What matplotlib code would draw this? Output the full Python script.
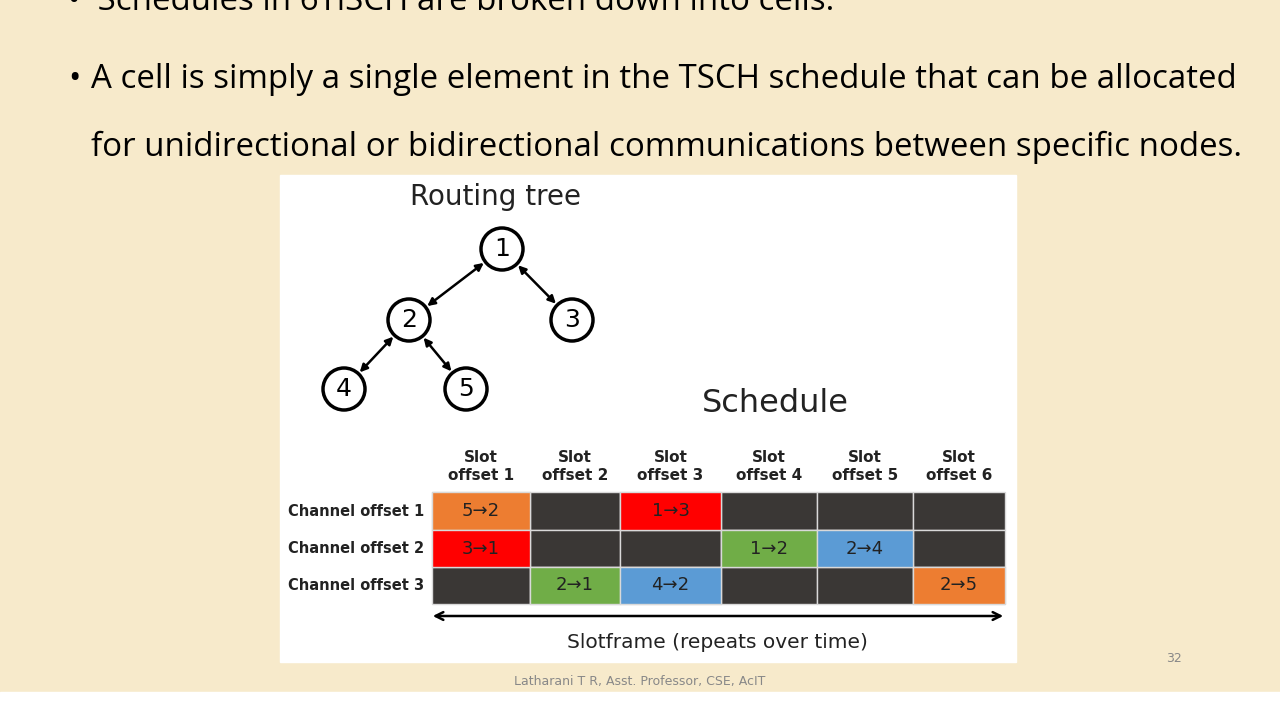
import matplotlib
matplotlib.use("Agg")
import matplotlib.pyplot as plt
from matplotlib.patches import Rectangle, Circle, FancyArrowPatch

# data
slot_labels = ["Slot\noffset 1", "Slot\noffset 2", "Slot\noffset 3",
               "Slot\noffset 4", "Slot\noffset 5", "Slot\noffset 6"]
channel_labels = ["Channel offset 1", "Channel offset 2", "Channel offset 3"]
# (channel row, slot col, text, colour)
cells = [(0, 0, "5→2", "#ED7D31"), (0, 2, "1→3", "#FF0000"),
         (1, 0, "3→1", "#FF0000"), (1, 3, "1→2", "#70AD47"), (1, 4, "2→4", "#5B9BD5"),
         (2, 1, "2→1", "#70AD47"), (2, 2, "4→2", "#5B9BD5"), (2, 5, "2→5", "#ED7D31")]
nodes = {"1": (502, 249), "2": (409, 320), "3": (572, 320), "4": (344, 389), "5": (466, 389)}
edges = [("1", "2"), ("1", "3"), ("2", "4"), ("2", "5")]

col_edges = [432, 530, 620, 721, 817, 913, 1005]
row_edges = [492, 530, 567, 604]

fig = plt.figure(figsize=(12.8, 7.2), dpi=100)
fig.patch.set_facecolor("#F7EACB")
ax = fig.add_axes([0, 0, 1, 1])
ax.set_xlim(0, 1280)
ax.set_ylim(720, 0)
ax.axis("off")

ax.add_patch(Rectangle((0, 692), 1280, 28, color="white"))
ax.add_patch(Rectangle((280, 175), 736, 487, color="white"))

tf = dict(family="Open Sans", fontsize=23.8, color="black", va="center")
ax.text(68, 2, "•  Schedules in 6TiSCH are broken down into cells.", **tf)
ax.text(68, 79, "•", **tf)
ax.text(91, 79, "A cell is simply a single element in the TSCH schedule that can be allocated", **tf)
ax.text(91, 147, "for unidirectional or bidirectional communications between specific nodes.", **tf)

ax.text(495, 197, "Routing tree", fontsize=20, ha="center", va="center", color="#222")
ax.text(775, 403, "Schedule", fontsize=23, ha="center", va="center", color="#222")

r = 21
for a, b in edges:
    (x1, y1), (x2, y2) = nodes[a], nodes[b]
    ax.add_patch(FancyArrowPatch((x1, y1), (x2, y2), arrowstyle="<|-|>",
                 mutation_scale=11, lw=1.8, color="black", shrinkA=16.5, shrinkB=16.5))
for k, (x, y) in nodes.items():
    ax.add_patch(Circle((x, y), r, fc="white", ec="black", lw=2.5))
    ax.text(x, y, k, fontsize=18, ha="center", va="center")

for j, lab in enumerate(slot_labels):
    ax.text((col_edges[j] + col_edges[j + 1]) / 2, 467, lab, fontsize=11,
            fontweight="bold", ha="center", va="center", color="#222", linespacing=1.25)
for i, lab in enumerate(channel_labels):
    ax.text(424, (row_edges[i] + row_edges[i + 1]) / 2, lab, fontsize=10.5,
            fontweight="bold", ha="right", va="center", color="#222")

for i in range(3):
    for j in range(6):
        ax.add_patch(Rectangle((col_edges[j], row_edges[i]), col_edges[j + 1] - col_edges[j],
                               row_edges[i + 1] - row_edges[i], fc="#3A3735", ec="#D9D9D9", lw=1))
for i, j, t, c in cells:
    ax.add_patch(Rectangle((col_edges[j], row_edges[i]), col_edges[j + 1] - col_edges[j],
                           row_edges[i + 1] - row_edges[i], fc=c, ec="#D9D9D9", lw=1))
    ax.text((col_edges[j] + col_edges[j + 1]) / 2, (row_edges[i] + row_edges[i + 1]) / 2, t,
            fontsize=13, ha="center", va="center", color="#222")

ax.add_patch(FancyArrowPatch((430, 616), (1006, 616), arrowstyle="<->", mutation_scale=14,
                             lw=1.8, color="black"))
ax.text(717, 642, "Slotframe (repeats over time)", fontsize=14.5, ha="center", va="center", color="#222")

ax.text(1174, 658, "32", fontsize=9, ha="center", va="center", color="#888")
ax.text(640, 682, "Latharani T R, Asst. Professor, CSE, AcIT", fontsize=9, ha="center",
        va="center", color="#888")

fig.savefig("out.png", dpi=100, facecolor=fig.get_facecolor())
